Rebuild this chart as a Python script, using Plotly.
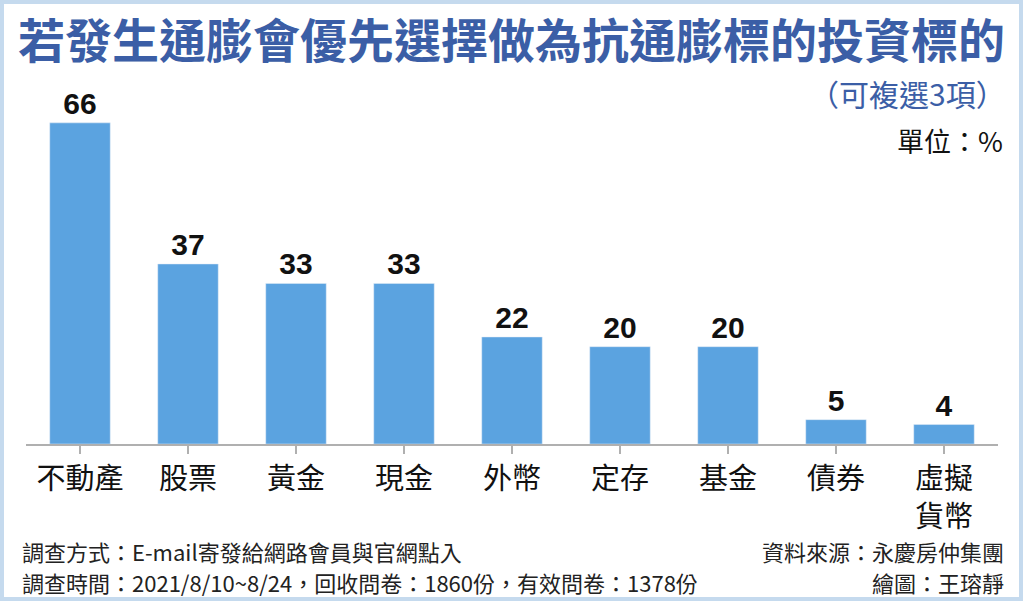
import plotly.graph_objects as go

categories = ['不動產', '股票', '黃金', '現金', '外幣', '定存', '基金', '債券', '虛擬<br>貨幣']
values = [66, 37, 33, 33, 22, 20, 20, 5, 4]

title_text = '若發生通膨會優先選擇做為抗通膨標的投資標的'
subtitle_text = '（可複選3項）'
unit_text = '單位：%'
foot_left = ['調查方式：E-mail寄發給網路會員與官網點入',
             '調查時間：2021/8/10~8/24，回收問卷：1860份，有效問卷：1378份']
foot_right = ['資料來源：永慶房仲集團', '繪圖：王瑢靜']

W, H = 1024, 602
L, R, T, B = 26, 26, 100, 158
PW, PH = W - L - R, H - T - B


def px(x):
    return (x - L) / PW


def py(y):
    return (H - B - y) / PH


CJK = 'Noto Sans CJK TC'
TITLE_BLUE = '#3b5ea6'

fig = go.Figure(go.Bar(
    x=categories, y=values,
    marker_color='#5ba3e0', width=0.56,
    text=values, textposition='outside', cliponaxis=False,
    textfont=dict(family='Liberation Sans', size=30, color='#111111', weight='bold'),
))

ann = []
ann.append(dict(x=px(16), y=py(38), text=title_text, xanchor='left', yanchor='middle',
                font=dict(family=CJK, size=47, color=TITLE_BLUE, weight='bold')))
ann.append(dict(x=px(1008), y=py(93), text=subtitle_text, xanchor='right', yanchor='middle',
                font=dict(family=CJK, size=30, color=TITLE_BLUE)))
ann.append(dict(x=px(1005), y=py(140), text=unit_text, xanchor='right', yanchor='middle',
                font=dict(family=CJK, size=27, color='#111111')))
for i, t in enumerate(foot_left):
    ann.append(dict(x=px(20), y=py(551 + 31 * i), text=t, xanchor='left', yanchor='middle',
                    font=dict(family=CJK, size=22, color='#222222')))
for i, t in enumerate(foot_right):
    ann.append(dict(x=px(1006), y=py(551 + 31 * i), text=t, xanchor='right', yanchor='middle',
                    font=dict(family=CJK, size=22, color='#222222')))
for a in ann:
    a.update(xref='paper', yref='paper', showarrow=False)

fig.update_layout(
    width=W, height=H,
    margin=dict(l=L, r=R, t=T, b=B),
    paper_bgcolor='white', plot_bgcolor='white',
    showlegend=False,
    annotations=ann,
    shapes=[dict(type='rect', xref='paper', yref='paper',
                 x0=px(2), x1=px(1021), y0=py(599), y1=py(2),
                 line=dict(color='#c5daee', width=4))],
    bargap=0.44,
)
fig.update_xaxes(
    automargin=False,
    showline=True, linecolor='#b0b0b0', linewidth=2,
    ticks='outside', ticklen=8, tickcolor='#b0b0b0', tickwidth=2,
    tickfont=dict(family=CJK, size=29, color='#111111'),
    showgrid=False,
)
fig.update_yaxes(range=[0, 70.7], visible=False, showgrid=False, automargin=False)

# page body has an 8px default margin; drop it so the figure fills the window
fig.write_html('out.html', config={'displayModeBar': False},
               post_script="document.body.style.margin='0';")
